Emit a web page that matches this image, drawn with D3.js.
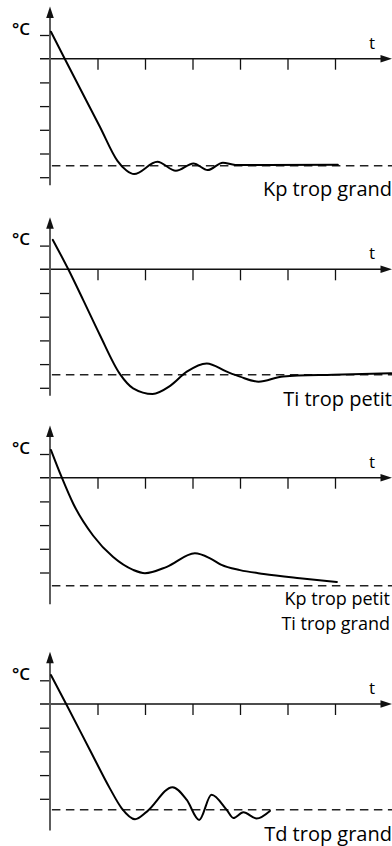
<!DOCTYPE html>
<html>
<head>
<meta charset="utf-8">
<script src="https://cdn.jsdelivr.net/npm/d3@7"></script>
<style>
  html, body { margin: 0; padding: 0; background: #fff; }
  svg { display: block; }
  text { font-family: "Open Sans", "Noto Sans", sans-serif; fill: #000; }
</style>
</head>
<body>
<svg id="chart" width="392" height="846"></svg>
<script>
// ---- Data (time in tick units, temperature in tick units; 0 = x axis) ----
const xTicks = [1, 2, 3, 4, 5, 6];
const yLabel = "°C";
const xLabel = "t";

const p1Labels = ["Kp trop grand"];
const p1Setpoint = -4.52;
const p1YTicks = [1, -1, -2, -3, -4, -5];
const p1T = [0.02, 0.31, 1.05, 1.42, 1.61, 1.77, 2.26, 2.65, 3.02, 3.32, 3.64, 3.9, 4.5, 6.06];
const p1V = [1.14, 0.0, -2.87, -4.31, -4.72, -4.87, -4.35, -4.73, -4.42, -4.70, -4.39, -4.48, -4.48, -4.47];

const p2Labels = ["Ti trop petit"];
const p2Setpoint = -4.45;
const p2YTicks = [1, -1, -2, -3, -4, -5];
const p2T = [0.06, 0.385, 0.70, 1.05, 1.47, 1.75, 2.16, 2.53, 2.88, 3.30, 3.72, 4.0, 4.39, 4.91, 5.96, 7.19];
const p2V = [1.24, 0.0, -1.30, -2.77, -4.41, -5.02, -5.26, -4.92, -4.32, -3.97, -4.32, -4.53, -4.74, -4.52, -4.45, -4.39];

const p3Labels = ["Kp trop petit", "Ti trop grand"];
const p3Setpoint = -4.56;
const p3YTicks = [1, -1, -2, -3, -4];
const p3T = [0.02, 0.25, 0.49, 0.91, 1.33, 1.75, 2.0, 2.46, 3.05, 3.37, 3.61, 4.0, 4.5, 5.26, 6.04];
const p3V = [1.17, 0.0, -1.10, -2.45, -3.35, -3.89, -4.03, -3.76, -3.19, -3.40, -3.68, -3.90, -4.06, -4.24, -4.40];

const p4Labels = ["Td trop grand"];
const p4Setpoint = -4.46;
const p4YTicks = [1, -1, -2, -3, -4];
const p4T = [0.02, 0.34, 0.84, 1.26, 1.51, 1.79, 2.04, 2.58, 2.88, 3.14, 3.40, 3.72, 3.86, 4.07, 4.35, 4.63];
const p4V = [1.22, 0.0, -1.94, -3.56, -4.40, -4.86, -4.54, -3.51, -4.05, -4.89, -3.83, -4.47, -4.81, -4.57, -4.83, -4.51];

// ---- Layout ----
const panels = [
  { y0: 58.7,  T: p1T, V: p1V, sp: p1Setpoint, yt: p1YTicks, labels: p1Labels },
  { y0: 269.3, T: p2T, V: p2V, sp: p2Setpoint, yt: p2YTicks, labels: p2Labels },
  { y0: 477.7, T: p3T, V: p3V, sp: p3Setpoint, yt: p3YTicks, labels: p3Labels },
  { y0: 704,   T: p4T, V: p4V, sp: p4Setpoint, yt: p4YTicks, labels: p4Labels }
];

const svg = d3.select("#chart");
const x = d3.scaleLinear().domain([0, 7.2]).range([50, 392]);
const unitY = 23.7;
const yTop = 2.2, yBot = -5.34;

panels.forEach((p, i) => {
  const y = d3.scaleLinear().domain([yBot, yTop]).range([p.y0 - yBot * unitY, p.y0 - yTop * unitY]);
  const g = svg.append("g");

  // setpoint dashed line
  g.append("line")
    .attr("x1", x(0.04)).attr("x2", 392)
    .attr("y1", y(p.sp)).attr("y2", y(p.sp))
    .attr("stroke", "#222").attr("stroke-width", 1.4)
    .attr("stroke-dasharray", "8.5,5.5");

  // x axis
  const xAxis = d3.axisBottom(x).tickValues(xTicks).tickSize(11).tickFormat("");
  const xa = g.append("g").attr("transform", `translate(0,${y(0)})`).call(xAxis);
  xa.select(".domain").remove();
  xa.selectAll(".tick line").attr("stroke", "#111").attr("stroke-width", 1.3);
  g.append("line")
    .attr("x1", 40).attr("x2", 384).attr("y1", y(0)).attr("y2", y(0))
    .attr("stroke", "#111").attr("stroke-width", 1.4);
  g.append("path")
    .attr("d", `M392,${y(0)} L380.5,${y(0) - 3.8} L380.5,${y(0) + 3.8} Z`)
    .attr("fill", "#111");

  // y axis
  const yAxis = d3.axisLeft(y).tickValues(p.yt).tickSize(10).tickFormat("");
  const ya = g.append("g").attr("transform", `translate(${x(0)},0)`).call(yAxis);
  ya.select(".domain").remove();
  ya.selectAll(".tick line").attr("stroke", "#111").attr("stroke-width", 1.3);
  g.append("line")
    .attr("x1", x(0)).attr("x2", x(0))
    .attr("y1", y(yBot)).attr("y2", y(yTop) + 8)
    .attr("stroke", "#555").attr("stroke-width", 1.9);
  g.append("path")
    .attr("d", `M${x(0)},${y(yTop)} L${x(0) - 3.8},${y(yTop) + 11.5} L${x(0) + 3.8},${y(yTop) + 11.5} Z`)
    .attr("fill", "#111");

  // axis labels
  g.append("text").attr("x", 12).attr("y", y(0) - 24)
    .attr("font-size", 17).attr("font-weight", 600).text(yLabel);
  g.append("text").attr("x", 369).attr("y", y(0) - 10)
    .attr("font-size", 17).attr("font-weight", 500).text(xLabel);

  // curve
  const data = p.T.map((t, k) => [t, p.V[k]]);
  const line = d3.line().x(d => x(d[0])).y(d => y(d[1])).curve(d3.curveMonotoneX);
  g.append("path").datum(data)
    .attr("d", line)
    .attr("fill", "none").attr("stroke", "#000").attr("stroke-width", 2)
    .attr("stroke-linejoin", "round").attr("stroke-linecap", "round");

  // panel label(s)
  const multi = p.labels.length > 1;
  const lx = multi ? 390 : 392;
  const fs = multi ? 18 : 20;
  const base = multi ? y(0) + 127 : y(0) + 137;
  p.labels.forEach((s, k) => {
    g.append("text")
      .attr("x", lx)
      .attr("y", base + k * 24.8)
      .attr("text-anchor", "end")
      .attr("font-size", fs).attr("font-weight", 500)
      .text(s);
  });
});
</script>
</body>
</html>
